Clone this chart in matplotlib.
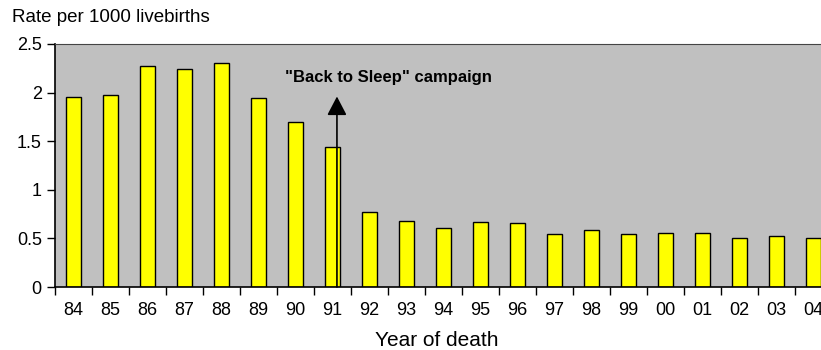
import matplotlib.pyplot as plt
import numpy as np

years = ["84", "85", "86", "87", "88", "89", "90", "91", "92", "93", "94",
         "95", "96", "97", "98", "99", "00", "01", "02", "03", "04"]
rates = [1.95, 1.98, 2.27, 2.24, 2.30, 1.94, 1.70, 1.44, 0.77, 0.68, 0.61,
         0.67, 0.655, 0.545, 0.59, 0.545, 0.555, 0.555, 0.50, 0.52, 0.50]
campaign_label = '"Back to Sleep" campaign'
campaign_year = "91"

plt.rcParams['font.family'] = ['Liberation Sans', 'DejaVu Sans']

fig = plt.figure(figsize=(8.21, 3.5), dpi=100)
ax = fig.add_axes([55 / 821, 63 / 350, 1 - 55 / 821, 243 / 350])
ax.set_facecolor("#c0c0c0")

x = np.arange(len(years))
ax.bar(x, rates, width=0.39, color="#ffff00", edgecolor="black", linewidth=1, zorder=2)

# arrow marking the campaign, just right of the 91 bar
i = years.index(campaign_year)
ax.annotate("", xy=(i + 0.12, 1.96), xytext=(i + 0.12, 0),
            arrowprops=dict(arrowstyle="-|>,head_width=0.6,head_length=1.15",
                            color="black", lw=1.2, shrinkA=0, shrinkB=0),
            zorder=3)
ax.text(i + 1.5, 2.16, campaign_label, fontsize=12, fontweight="bold",
        ha="center", va="center")

ax.set_yticks([0, 0.5, 1, 1.5, 2, 2.5])
ax.set_yticklabels(["0", "0.5", "1", "1.5", "2", "2.5"])
ax.tick_params(axis="y", labelsize=13, length=6, width=1)

ax.set_xticks(np.arange(len(years) + 1) - 0.5)
ax.set_xticklabels([])
ax.set_xticks(x, minor=True)
ax.set_xticklabels(years, minor=True)
ax.tick_params(axis="x", which="major", length=6, width=1)
ax.tick_params(axis="x", which="minor", length=0, labelsize=13, pad=11)

# limits after the ticks, the chart is cut off on the right
ax.set_ylim(0, 2.5)
ax.set_xlim(-0.5, -0.5 + 766 / 37)

ax.spines["right"].set_visible(False)
ax.spines["top"].set_color("#444444")
for s in ["left", "bottom"]:
    ax.spines[s].set_linewidth(1.2)

fig.text(12 / 821, 1 - 18 / 350, "Rate per 1000 livebirths", fontsize=13.5,
         ha="left", va="center")
fig.text(437 / 821, 1 - 340 / 350, "Year of death", fontsize=15,
         ha="center", va="center")

fig.savefig("out.png", dpi=100)
